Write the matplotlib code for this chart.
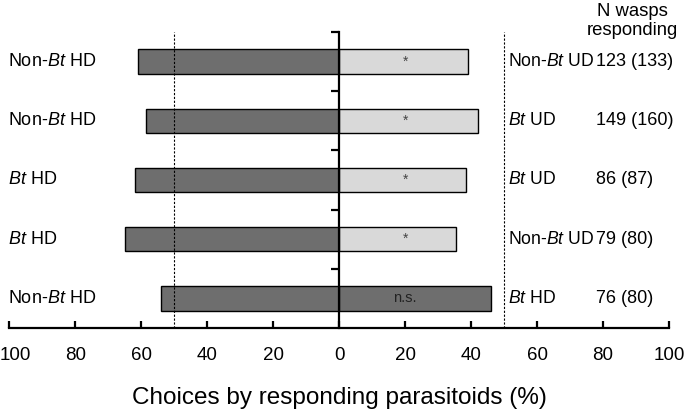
import matplotlib.pyplot as plt
import matplotlib.transforms as mtransforms

plt.rcParams['font.family'] = ['Liberation Sans', 'DejaVu Sans']
plt.rcParams['mathtext.fontset'] = 'custom'
plt.rcParams['mathtext.rm'] = 'Liberation Sans'
plt.rcParams['mathtext.it'] = 'Liberation Sans:italic'

# rows from top to bottom
left_labels = ['Non-$\\it{Bt}$ HD', 'Non-$\\it{Bt}$ HD', '$\\it{Bt}$ HD', '$\\it{Bt}$ HD', 'Non-$\\it{Bt}$ HD']
right_labels = ['Non-$\\it{Bt}$ UD', '$\\it{Bt}$ UD', '$\\it{Bt}$ UD', 'Non-$\\it{Bt}$ UD', '$\\it{Bt}$ HD']
left_vals = [61, 58.5, 62, 65, 54]
right_vals = [39, 42, 38.5, 35.5, 46]
n_resp = ['123 (133)', '149 (160)', '86 (87)', '79 (80)', '76 (80)']
signif = ['*', '*', '*', '*', 'n.s.']
right_dark = [False, False, False, False, True]

dark = '#6e6e6e'
light = '#d9d9d9'

fig = plt.figure(figsize=(6.85, 4.16), dpi=100)
ax = fig.add_axes([9.3/685, 88/416, (669-9.3)/685, 296/416])

n = len(left_vals)
ys = [n - 1 - i for i in range(n)]
h = 0.415

ax.barh(ys, [-v for v in left_vals], height=h, color=dark, edgecolor='black', linewidth=1)
ax.barh(ys, right_vals, height=h,
        color=[dark if d else light for d in right_dark], edgecolor='black', linewidth=1)

for y, s in zip(ys, signif):
    if s == '*':
        ax.text(20, y, s, ha='center', va='center', fontsize=10, color='#444444')
    else:
        ax.text(20, y, s, ha='center', va='center', fontsize=10.5, color='#222222')

for x in (-50, 50):
    ax.axvline(x, color='black', linestyle=(0, (2, 1.5)), linewidth=0.8)

trans = mtransforms.blended_transform_factory(fig.transFigure, ax.transData)
for y, l, r, nr in zip(ys, left_labels, right_labels, n_resp):
    ax.text(8/685, y, l, transform=trans, ha='left', va='center', fontsize=13)
    ax.text(51.2, y, r, ha='left', va='center', fontsize=12.7)
    ax.text(78, y, nr, ha='left', va='center', fontsize=13)

fig.text(632/685, 1 - 21/416, 'N wasps\nresponding', ha='center', va='center',
         fontsize=13.3, linespacing=1.2)

ax.set_xlim(-100, 100)
ax.set_ylim(-0.5, n - 0.5)

for s in ('top', 'right'):
    ax.spines[s].set_visible(False)
ax.spines['left'].set_position(('data', 0))
ax.spines['left'].set_linewidth(1.6)
ax.spines['bottom'].set_linewidth(1.6)

xt = list(range(-100, 101, 20))
ax.set_xticks(xt)
ax.set_xticklabels([str(abs(v)) for v in xt], fontsize=13.5)
ax.tick_params(axis='x', direction='in', length=5, width=1.6, pad=14)
# first label sits just inside the figure edge
first = ax.get_xticklabels()[0]
first.set_transform(first.get_transform() + mtransforms.ScaledTranslation(6/100, 0, fig.dpi_scale_trans))
ax.set_yticks([y + 0.5 for y in range(n)])
ax.set_yticklabels([])
ax.tick_params(axis='y', direction='out', length=6, width=1.6)

ax.set_xlabel('Choices by responding parasitoids (%)', fontsize=17.5, labelpad=16)

fig.savefig('out.png', dpi=100)
